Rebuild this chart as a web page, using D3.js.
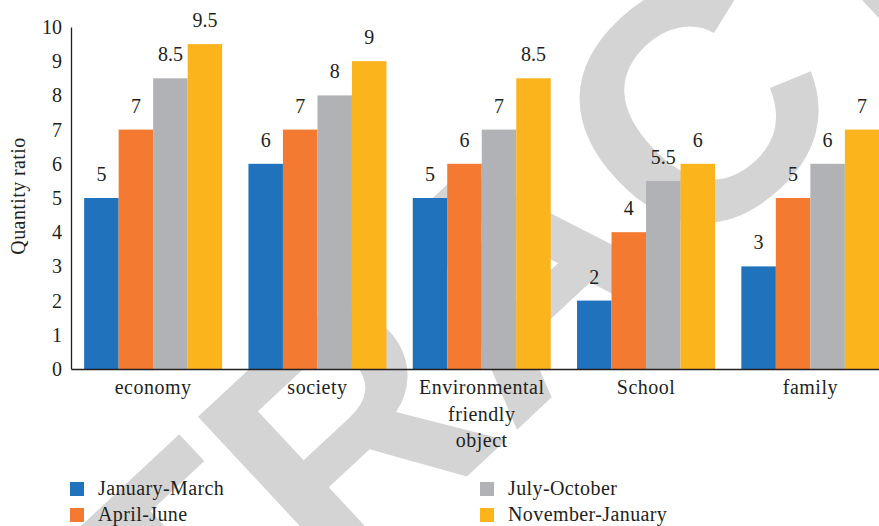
<!DOCTYPE html>
<html>
<head>
<meta charset="utf-8">
<script src="https://cdn.jsdelivr.net/npm/d3@7"></script>
<style>
  html, body { margin: 0; padding: 0; background: #fff; }
  svg { display: block; }
</style>
</head>
<body>
<svg id="chart" width="879" height="526"></svg>
<script>
const categories = ["economy", "society", "Environmental friendly object", "School", "family"];
const seriesNames = ["January-March", "April-June", "July-October", "November-January"];
const janMar = [5, 6, 5, 2, 3];
const aprJun = [7, 7, 6, 4, 5];
const julOct = [8.5, 8, 7, 5.5, 6];
const novJan = [9.5, 9, 8.5, 6, 7];
const seriesValues = [janMar, aprJun, julOct, novJan];
const yTicks = [0, 1, 2, 3, 4, 5, 6, 7, 8, 9, 10];
const colors = ["#1f72bb", "#f37a30", "#b1b2b5", "#fcb41c"];
const yTitle = "Quantity ratio";
const watermark = "RETRACTED";

const SERIF = "'Liberation Serif', 'Times New Roman', serif";
const INK = "#231f20";
const svg = d3.select("#chart");

// watermark
svg.append("text")
  .attr("transform", "translate(-146,1048) rotate(-43)")
  .style("font-family", "'Liberation Sans', Arial, sans-serif")
  .style("font-weight", "bold")
  .style("font-size", "330px")
  .style("fill", "#d4d4d4")
  .text(watermark);

const x0 = d3.scaleBand().domain(categories).range([71, 892.5]).paddingInner(0.16).paddingOuter(0.08);
const x1 = d3.scaleBand().domain(seriesNames).range([0, x0.bandwidth()]).padding(0);
const y = d3.scaleLinear().domain([0, 10]).range([369, 27]);

// bars
const groups = svg.append("g").selectAll("g").data(categories).join("g")
  .attr("transform", d => `translate(${x0(d)},0)`);
groups.selectAll("rect")
  .data((c, i) => seriesNames.map((s, k) => ({ s, k, v: seriesValues[k][i] })))
  .join("rect")
  .attr("x", d => x1(d.s))
  .attr("y", d => y(d.v))
  .attr("width", x1.bandwidth())
  .attr("height", d => y(0) - y(d.v))
  .attr("fill", d => colors[d.k]);
groups.selectAll("text.val")
  .data((c, i) => seriesNames.map((s, k) => ({ s, k, v: seriesValues[k][i] })))
  .join("text").attr("class", "val")
  .attr("x", d => x1(d.s) + x1.bandwidth() / 2)
  .attr("y", d => y(d.v) - 17)
  .attr("text-anchor", "middle")
  .style("font-family", SERIF)
  .style("font-size", "20px")
  .style("fill", INK)
  .text(d => d.v);

// y axis
const yAxis = d3.axisLeft(y).tickValues(yTicks).tickSize(0).tickPadding(9).tickFormat(d3.format("d"));
const gy = svg.append("g").attr("transform", "translate(71,0)").call(yAxis);
gy.attr("font-family", null);
gy.select(".domain").attr("stroke", INK).attr("stroke-width", 1.3);
gy.selectAll(".tick text")
  .style("font-family", SERIF)
  .style("font-size", "20px")
  .style("fill", INK);

// x axis
const xAxis = d3.axisBottom(x0).tickSize(0).tickPadding(0);
const gx = svg.append("g").attr("transform", "translate(0,369)").call(xAxis);
gx.attr("font-family", null);
gx.select(".domain").attr("stroke", INK).attr("stroke-width", 1.5);
gx.selectAll(".tick text").remove();
gx.selectAll(".tick").each(function(d) {
  const words = d === "Environmental friendly object" ? ["Environmental", "friendly", "object"] : [d];
  const t = d3.select(this).append("text")
    .attr("text-anchor", "middle")
    .style("font-family", SERIF)
    .style("font-size", "20px")
    .style("letter-spacing", "0.5px")
    .style("fill", INK);
  words.forEach((w, i) => t.append("tspan").attr("x", 0).attr("y", 25 + i * 26.5).text(w));
});

// y title
svg.append("text")
  .attr("transform", "translate(25,196) rotate(-90)")
  .attr("text-anchor", "middle")
  .style("font-family", SERIF)
  .style("font-size", "20px")
  .style("letter-spacing", "0.4px")
  .style("fill", INK)
  .text(yTitle);

// legend
const legendPos = [[70, 482], [70, 508], [480, 482], [480, 508]];
const lg = svg.append("g").selectAll("g").data(seriesNames).join("g")
  .attr("transform", (d, i) => `translate(${legendPos[i][0]},${legendPos[i][1]})`);
lg.append("rect").attr("width", 14).attr("height", 14).attr("fill", (d, i) => colors[i]);
lg.append("text").attr("x", 28).attr("y", 13)
  .style("font-family", SERIF)
  .style("font-size", "20px")
  .style("letter-spacing", "0.4px")
  .style("fill", INK)
  .text(d => d);
</script>
</body>
</html>
